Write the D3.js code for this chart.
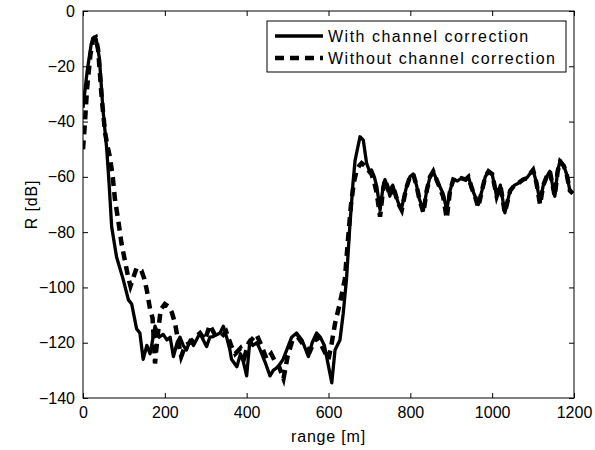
<!DOCTYPE html>
<html>
<head>
<meta charset="utf-8">
<script src="https://cdn.jsdelivr.net/npm/d3@7"></script>
<style>
  body { margin: 0; background: #fff; }
  text { font-family: "Liberation Sans", Arial, Helvetica, sans-serif; }
</style>
</head>
<body>
<div id="chart"></div>
<script>
// range [m] / R [dB]
const rangeWith = [0, 10, 20, 27, 32, 40, 49, 58, 64, 70, 82, 98, 111, 119, 131, 139, 147, 156, 164, 172,
    176, 186, 196, 205, 213, 221, 230, 237, 245, 253, 262, 270, 286, 294, 302, 310, 318, 335, 343, 351,
    359, 363, 376, 385, 392, 400, 408, 415, 425, 433, 445, 457, 465, 477, 489, 498, 510, 522, 535, 551,
    560, 571, 580, 590, 598, 608, 616, 628, 636, 644, 652, 660, 665, 677, 685, 693, 700, 705, 712, 718,
    726, 733, 738, 745, 750, 757, 765, 772, 779, 790, 799, 807, 815, 822, 832, 840, 848, 856, 864, 872,
    880, 889, 897, 905, 915, 925, 935, 942, 950, 958, 966, 975, 983, 991, 1000, 1011, 1020, 1031, 1044, 1055,
    1064, 1075, 1084, 1092, 1100, 1108, 1117, 1125, 1133, 1141, 1153, 1160, 1166, 1175, 1182, 1190, 1197];
const rWith = [-35, -22, -12, -9.5, -10, -17, -36, -50, -63, -78, -89, -97, -104.5, -106, -115, -116.5, -126, -121, -124, -117.5,
    -114, -118, -117, -119, -118, -125, -120, -118, -121, -122.6, -119, -121, -116.5, -119, -121.4, -118, -117.8, -116.5, -114, -118,
    -122.6, -126, -128.7, -124, -127, -132, -119, -121, -120, -122.6, -127, -132, -130, -128.7, -126, -122.6, -118, -116.5, -119, -125,
    -120, -116.5, -118, -121, -127, -134.5, -122.6, -119, -109.4, -97, -78, -62, -54, -45.5, -46.7, -55, -58, -57.5, -60, -63.5,
    -72, -64, -61, -64, -67, -63, -67, -70, -71, -64, -60, -59, -63, -68, -72, -65, -60, -58, -61, -63.5,
    -66, -72, -65, -61, -61.5, -60.5, -61, -60, -64, -67, -70, -65, -60, -58, -59, -67, -63, -73, -64.8, -63,
    -62.3, -61, -60.5, -59, -57.5, -62, -69, -63, -60, -58, -67, -58, -54, -56, -59, -65, -66];

const rangeWithout = [0, 4, 10, 18, 25, 31, 37, 42, 46, 54, 60, 66, 73, 78, 86, 94, 102, 110, 116, 124,
    131, 143, 150, 156, 164, 170, 176, 182, 190, 200, 210, 217, 225, 232, 240, 250, 261, 275, 286, 298,
    310, 322, 339, 350, 362, 372, 385, 395, 405, 424, 436, 449, 460, 470, 480, 490, 500, 512, 525, 540,
    555, 570, 583, 593, 600, 608, 616, 628, 640, 648, 655, 662, 669, 675, 681, 689, 697, 705, 712, 718,
    726, 733, 738, 745, 750, 757, 765, 772, 779, 790, 799, 807, 815, 822, 832, 840, 848, 856, 864, 872,
    880, 889, 897, 905, 915, 925, 935, 942, 950, 958, 966, 975, 983, 991, 1000, 1011, 1020, 1031, 1044, 1055,
    1064, 1075, 1084, 1092, 1100, 1108, 1117, 1125, 1133, 1141, 1153, 1160, 1166, 1175, 1182, 1190, 1197];
const rWithout = [-50, -42, -28, -16, -10, -9.5, -14, -24, -32, -44, -49, -53, -60.5, -68, -75.6, -84, -90, -96, -99.5, -96,
    -93, -94, -97, -101, -108, -111, -127.5, -118, -108, -106, -107, -109, -113, -119, -125, -121, -120, -118, -116.5, -119,
    -113.6, -117, -117.8, -116, -121, -124, -122, -125, -120, -117, -121, -126, -124, -127, -129, -133, -125, -119, -118, -121,
    -123, -118, -121, -124, -126, -120, -113, -105.6, -97, -82, -70, -62, -57.5, -56, -55, -56, -57.5, -59, -62, -66,
    -74.4, -65, -61, -64, -67, -63, -67, -70, -72, -64, -60, -59, -63, -68, -73, -65, -60, -58, -61, -64,
    -67, -75, -65, -61, -61.5, -60.5, -61, -60, -64, -67, -71, -65, -60, -58, -59, -67, -63, -73, -65, -63,
    -62.3, -61, -60.5, -59, -57.5, -62, -70, -63, -60, -58, -67, -58, -54.5, -56, -59, -65, -66];

const xTicks = [0, 200, 400, 600, 800, 1000, 1200];
const yTicks = [0, -20, -40, -60, -80, -100, -120, -140];
const legendLabels = ["With channel correction", "Without channel correction"];

const margin = { top: 11, right: 21, bottom: 52, left: 83 },
    width = 595 - margin.left - margin.right,
    height = 450 - margin.top - margin.bottom;

const svg = d3.select("#chart")
    .append("svg")
    .attr("width", 595)
    .attr("height", 450)
    .append("g")
    .attr("transform", `translate(${margin.left}, ${margin.top})`);

const x = d3.scaleLinear().domain([0, 1200]).range([0, width]);
const y = d3.scaleLinear().domain([-140, 0]).range([height, 0]);

const fmt = d => String(d).replace("-", "\u2212");

// axes, ticks pointing inward like matlab
const axisStyle = function (g) {
    g.select(".domain").remove();
    g.selectAll(".tick line").attr("stroke", "#000");
    g.selectAll(".tick text").attr("fill", "#000")
        .style("font-size", "16px");
};
svg.append("g")
    .attr("transform", `translate(0, ${height})`)
    .call(d3.axisBottom(x).tickValues(xTicks).tickSizeInner(-5).tickPadding(9).tickFormat(fmt))
    .call(axisStyle);
svg.append("g")
    .call(d3.axisTop(x).tickValues(xTicks).tickSizeInner(-5).tickFormat(""))
    .call(axisStyle);
svg.append("g")
    .call(d3.axisLeft(y).tickValues(yTicks).tickSizeInner(-5).tickPadding(8).tickFormat(fmt))
    .call(axisStyle);
svg.append("g")
    .attr("transform", `translate(${width}, 0)`)
    .call(d3.axisRight(y).tickValues(yTicks).tickSizeInner(-5).tickFormat(""))
    .call(axisStyle);

svg.append("rect")
    .attr("width", width)
    .attr("height", height)
    .attr("fill", "none")
    .attr("stroke", "#000")
    .attr("stroke-width", 1);

// clip lines to plot box
svg.append("clipPath").attr("id", "clip")
    .append("rect").attr("width", width).attr("height", height);

const line = d3.line()
    .x(d => x(d[0]))
    .y(d => y(d[1]));

const dataWith = rangeWith.map((r, i) => [r, rWith[i]]);
const dataWithout = rangeWithout.map((r, i) => [r, rWithout[i]]);

svg.append("path")
    .datum(dataWithout)
    .attr("clip-path", "url(#clip)")
    .attr("d", line)
    .attr("fill", "none")
    .attr("stroke", "#000")
    .attr("stroke-width", 4.5)
    .attr("stroke-dasharray", "9,6");

svg.append("path")
    .datum(dataWith)
    .attr("clip-path", "url(#clip)")
    .attr("d", line)
    .attr("fill", "none")
    .attr("stroke", "#000")
    .attr("stroke-width", 3.3)
    .attr("stroke-linejoin", "round");

// axis labels
svg.append("text")
    .attr("x", width / 2)
    .attr("y", height + 44)
    .attr("text-anchor", "middle")
    .style("font-size", "16px")
    .style("letter-spacing", "0.8px")
    .text("range [m]");

svg.append("text")
    .attr("transform", `translate(-46, ${height / 2}) rotate(-90)`)
    .attr("text-anchor", "middle")
    .style("font-size", "16px")
    .style("letter-spacing", "0.8px")
    .text("R [dB]");

// legend
const lg = svg.append("g").attr("transform", "translate(184, 10)");
lg.append("rect")
    .attr("width", 299)
    .attr("height", 51)
    .attr("fill", "#fff")
    .attr("stroke", "#000");
lg.selectAll("line")
    .data(legendLabels)
    .enter()
    .append("line")
    .attr("x1", 8)
    .attr("x2", 56)
    .attr("y1", (d, i) => 15 + i * 22)
    .attr("y2", (d, i) => 15 + i * 22)
    .attr("stroke", "#000")
    .attr("stroke-width", (d, i) => i ? 4.5 : 3.3)
    .attr("stroke-dasharray", (d, i) => i ? "9,6" : null);
lg.selectAll("text")
    .data(legendLabels)
    .enter()
    .append("text")
    .attr("x", 61)
    .attr("y", (d, i) => 15 + i * 22)
    .attr("dy", "0.35em")
    .style("font-size", "16px")
    .style("letter-spacing", "1.5px")
    .text(d => d);
</script>
</body>
</html>
